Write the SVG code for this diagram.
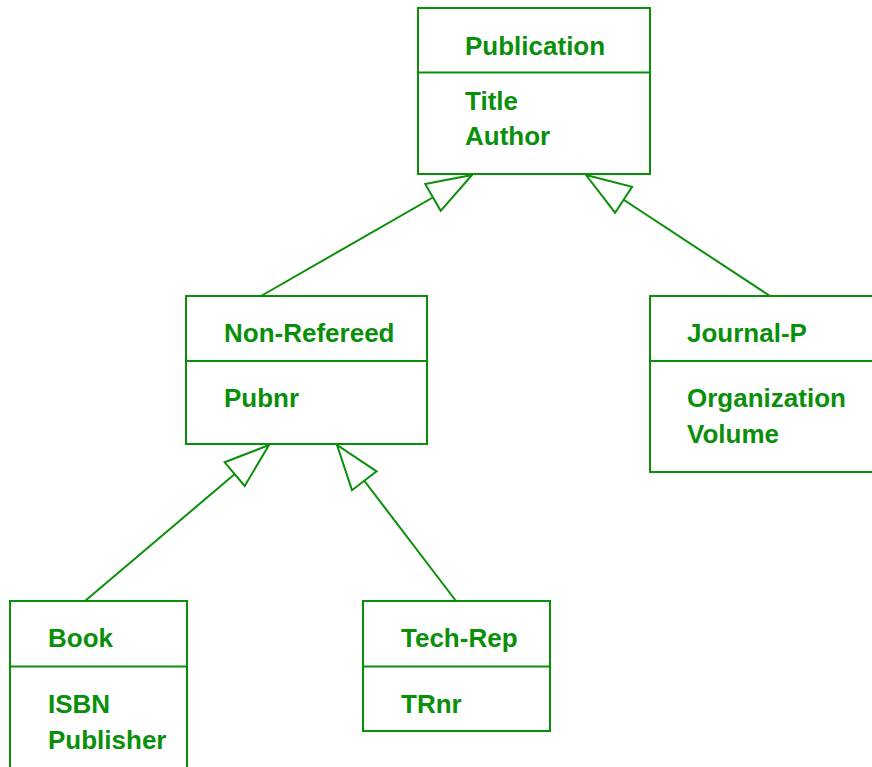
<svg xmlns="http://www.w3.org/2000/svg" width="872" height="767" viewBox="0 0 872 767">
<style>
.box{fill:#fff;stroke:#0a8f0a;stroke-width:2}
.div{stroke:#0a8f0a;stroke-width:2}
.t{font-family:"Liberation Sans",Arial,sans-serif;font-weight:bold;font-size:26px;fill:#0a8f0a}
.c{stroke:#0a8f0a;stroke-width:2;fill:none}
</style>
<defs>
<marker id="gen" markerUnits="userSpaceOnUse" markerWidth="50" markerHeight="36" refX="46" refY="17" orient="auto" overflow="visible">
<path d="M46,17 L1,1.5 L1,32.5 Z" fill="#fff" stroke="#0a8f0a" stroke-width="2" stroke-linejoin="miter"/>
</marker>
</defs>
<rect width="872" height="767" fill="#fff"/>
<g id="connectors">
<line class="c" x1="261" y1="296" x2="472" y2="175" marker-end="url(#gen)"/>
<line class="c" x1="770" y1="296" x2="586" y2="175" marker-end="url(#gen)"/>
<line class="c" x1="85" y1="601" x2="269" y2="445" marker-end="url(#gen)"/>
<line class="c" x1="456" y1="601" x2="337" y2="445" marker-end="url(#gen)"/>
</g>
<g id="publication">
<rect class="box" x="418" y="8" width="232" height="166"/>
<line class="div" x1="418" y1="72.5" x2="650" y2="72.5"/>
<text class="t" x="465" y="55">Publication</text>
<text class="t" x="465" y="110">Title</text>
<text class="t" x="465" y="145">Author</text>
</g>
<g id="non-refereed">
<rect class="box" x="186" y="296" width="241" height="148"/>
<line class="div" x1="186" y1="361" x2="427" y2="361"/>
<text class="t" x="224" y="342">Non-Refereed</text>
<text class="t" x="224" y="407">Pubnr</text>
</g>
<g id="journal-p">
<rect class="box" x="650" y="296" width="240" height="176"/>
<line class="div" x1="650" y1="361" x2="890" y2="361"/>
<text class="t" x="687" y="342">Journal-P</text>
<text class="t" x="687" y="407">Organization</text>
<text class="t" x="687" y="443">Volume</text>
</g>
<g id="book">
<rect class="box" x="10" y="601" width="177" height="180"/>
<line class="div" x1="10" y1="666.5" x2="187" y2="666.5"/>
<text class="t" x="48" y="647">Book</text>
<text class="t" x="48" y="713">ISBN</text>
<text class="t" x="48" y="749">Publisher</text>
</g>
<g id="tech-rep">
<rect class="box" x="363" y="601" width="187" height="130"/>
<line class="div" x1="363" y1="666.5" x2="550" y2="666.5"/>
<text class="t" x="401" y="647">Tech-Rep</text>
<text class="t" x="401" y="713">TRnr</text>
</g>
</svg>
